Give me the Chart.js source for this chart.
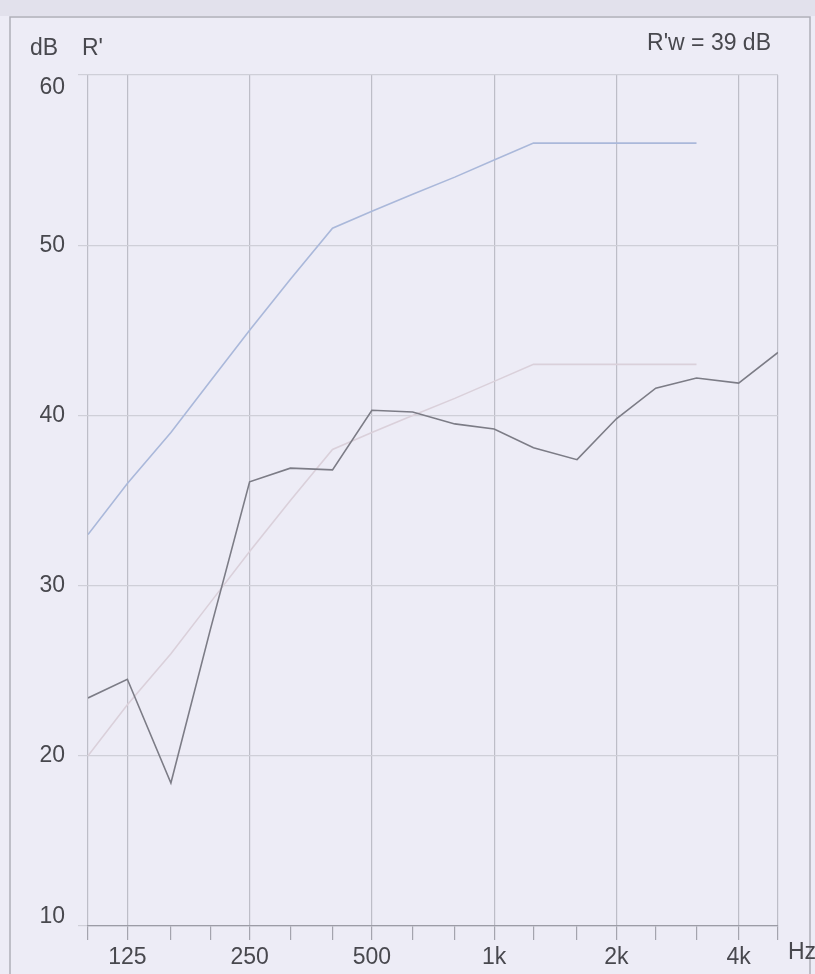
<!DOCTYPE html>
<html>
<head>
<meta charset="utf-8">
<script src="https://cdn.jsdelivr.net/npm/chart.js@4/dist/chart.umd.min.js"></script>
<style>
  html, body { margin: 0; padding: 0; background: #edecf6; }
  #wrap { position: relative; width: 815px; height: 974px; }
  canvas { display: block; }
</style>
</head>
<body>
<div id="wrap"><canvas id="c" width="815" height="974"></canvas></div>
<script>
// Third-octave band centre frequencies (Hz)
const freqs = [100,125,160,200,250,315,400,500,630,800,1000,1250,1600,2000,2500,3150,4000,5000];
// Measured apparent sound reduction index R' (dB)
const measured = [23.4,24.5,18.4,27.4,36.1,36.9,36.8,40.3,40.2,39.5,39.2,38.1,37.4,39.8,41.6,42.2,41.9,43.7];
// Reference curve (100 - 3150 Hz)
const refFreqs = [100,125,160,200,250,315,400,500,630,800,1000,1250,1600,2000,2500,3150];
const reference = [33,36,39,42,45,48,51,52,53,54,55,56,56,56,56,56];
// Shifted reference curve
const shifted = [20,23,26,29,32,35,38,39,40,41,42,43,43,43,43,43];
// Axis labels
const majorFreqs = [100,125,250,500,1000,2000,4000,5000];
const xLabels = {125:'125',250:'250',500:'500',1000:'1k',2000:'2k',4000:'4k'};
const yTicks = [10,20,30,40,50,60];

const FONT = "'Liberation Sans', Arial, sans-serif";
const TEXT = '#48484e';

const decor = {
  id: 'decor',
  beforeDraw(chart) {
    const c = chart.ctx;
    c.save();
    c.fillStyle = '#edecf6';
    c.fillRect(0, 0, chart.width, chart.height);
    c.fillStyle = '#e2e1ec';
    c.fillRect(0, 0, chart.width, 16);
    c.strokeStyle = '#aeaeb8';
    c.lineWidth = 1.5;
    c.beginPath();
    c.moveTo(10, 980); c.lineTo(10, 17); c.lineTo(810, 17); c.lineTo(810, 980);
    c.stroke();
    c.restore();
  },
  afterDraw(chart) {
    const c = chart.ctx;
    const y = chart.scales.y;
    c.save();
    c.fillStyle = TEXT;
    c.font = '23px ' + FONT;
    c.textBaseline = 'middle';
    c.textAlign = 'right';
    yTicks.forEach(v => {
      let off = 0;
      if (v === 60) off = 13;
      if (v === 10) off = -9;
      c.fillText(String(v), 65, y.getPixelForValue(v) + off);
    });
    c.textAlign = 'left';
    c.fillText('dB', 30, 49);
    c.fillText("R'", 82, 49);
    c.fillText('Hz', 788, 953);
    c.textAlign = 'right';
    c.fillText("R'w = 39 dB", 771, 44);
    c.restore();
  }
};

new Chart(document.getElementById('c'), {
  type: 'line',
  data: {
    datasets: [
      {
        label: "R'",
        data: freqs.map((f, i) => ({x: f, y: measured[i]})),
        borderColor: '#7c7c86',
        borderWidth: 1.6,
        pointRadius: 0,
        tension: 0
      },
      {
        label: 'Reference',
        data: refFreqs.map((f, i) => ({x: f, y: reference[i]})),
        borderColor: '#aab8da',
        borderWidth: 1.6,
        pointRadius: 0,
        tension: 0
      },
      {
        label: 'Shifted reference',
        data: refFreqs.map((f, i) => ({x: f, y: shifted[i]})),
        borderColor: '#dad0da',
        borderWidth: 1.6,
        pointRadius: 0,
        tension: 0
      }
    ]
  },
  options: {
    responsive: false,
    animation: false,
    devicePixelRatio: 1,
    layout: { padding: { top: 75, right: 37, left: 0, bottom: 0 } },
    plugins: { legend: { display: false }, tooltip: { enabled: false } },
    scales: {
      x: {
        type: 'logarithmic',
        min: 100,
        max: 5000,
        afterBuildTicks(scale) { scale.ticks = freqs.map(v => ({value: v})); },
        afterFit(scale) { scale.height = 48; },
        border: { display: true, color: '#9c9ca6', width: 1.2 },
        grid: {
          drawOnChartArea: true,
          drawTicks: true,
          tickLength: 14,
          color: ctx => (ctx.tick && majorFreqs.includes(ctx.tick.value)) ? '#bdbdc7' : 'rgba(0,0,0,0)',
          tickColor: '#a4a4ae',
          lineWidth: 1.2
        },
        ticks: {
          autoSkip: false,
          maxRotation: 0,
          padding: 4,
          color: TEXT,
          font: { family: FONT, size: 23 },
          callback: (v) => xLabels[v] || ''
        }
      },
      y: {
        type: 'linear',
        min: 10,
        max: 60,
        afterFit(scale) { scale.width = 88; },
        border: { display: false },
        grid: {
          color: '#cfcfd8',
          lineWidth: 1.2,
          drawTicks: true,
          tickLength: 10,
          tickColor: '#cfcfd8'
        },
        ticks: { stepSize: 10, display: false }
      }
    }
  },
  plugins: [decor]
});
</script>
</body>
</html>
